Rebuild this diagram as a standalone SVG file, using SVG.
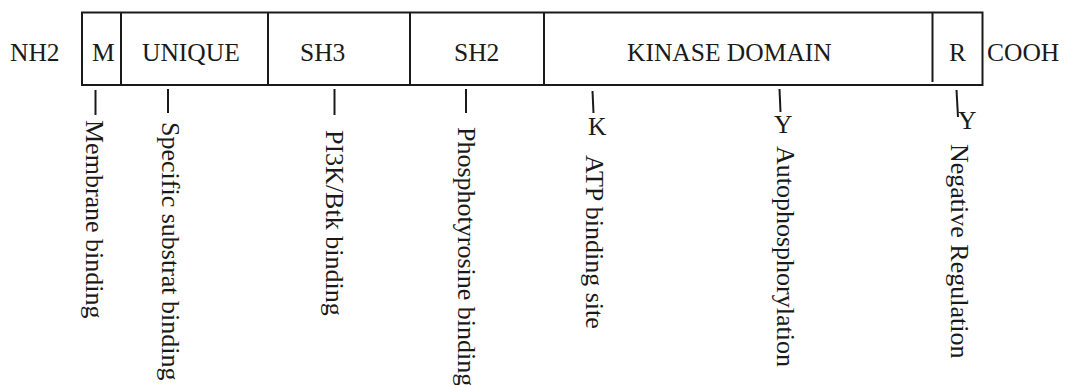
<svg xmlns="http://www.w3.org/2000/svg" width="1070" height="385" viewBox="0 0 1070 385">
<style>
text{font-family:"Liberation Serif","Times New Roman",serif;font-size:25.5px;fill:#1a1a1a}
.v{font-size:26px}
.b{fill:none;stroke:#1a1a1a;stroke-width:2}
.t{stroke:#1a1a1a;stroke-width:2}
</style>
<rect width="1070" height="385" fill="#fff"/>
<g id="ends">
<text x="10" y="61">NH2</text>
<text x="987" y="61">COOH</text>
</g>
<g id="protein">
<rect class="b" x="82" y="12.5" width="900.5" height="72.5"/>
<line class="t" x1="121" y1="12.5" x2="121" y2="85"/>
<line class="t" x1="268" y1="12.5" x2="268" y2="85"/>
<line class="t" x1="410" y1="12.5" x2="410" y2="85"/>
<line class="t" x1="544" y1="12.5" x2="544" y2="85"/>
<line class="t" x1="932.5" y1="12.5" x2="932.5" y2="82"/>
</g>
<g id="dom-M"><text x="92" y="61">M</text></g>
<g id="dom-UNIQUE"><text x="142" y="61">UNIQUE</text></g>
<g id="dom-SH3"><text x="300" y="61">SH3</text></g>
<g id="dom-SH2"><text x="454" y="61">SH2</text></g>
<g id="dom-KINASE"><text x="627" y="61">KINASE DOMAIN</text></g>
<g id="dom-R"><text x="949" y="61">R</text></g>
<g id="connectors">
<line class="t" x1="95.5" y1="90" x2="95.5" y2="115"/>
<line class="t" x1="168" y1="89" x2="168" y2="113"/>
<line class="t" x1="334.5" y1="89" x2="334.5" y2="115"/>
<line class="t" x1="466" y1="89" x2="466" y2="113"/>
<line class="t" x1="592.5" y1="91" x2="593.5" y2="113"/>
<line class="t" x1="779.5" y1="89" x2="780.5" y2="112"/>
<line class="t" x1="956.5" y1="90" x2="958" y2="117"/>
</g>
<g id="site-K"><text x="588" y="135">K</text></g>
<g id="site-Y1"><text x="774" y="133">Y</text></g>
<g id="site-Y2"><text x="958" y="129">Y</text></g>
<g id="label-membrane"><text class="v" transform="translate(86,120) rotate(90)">Membrane binding</text></g>
<g id="label-substrat"><text class="v" transform="translate(162,122) rotate(90)">Specific substrat binding</text></g>
<g id="label-pi3k"><text class="v" transform="translate(326,130) rotate(90)">PI3K/Btk binding</text></g>
<g id="label-phospho"><text class="v" transform="translate(458,127) rotate(90)">Phosphotyrosine binding</text></g>
<g id="label-atp"><text class="v" transform="translate(586,155) rotate(90)">ATP binding site</text></g>
<g id="label-auto"><text class="v" transform="translate(777,146) rotate(90)">Autophosphorylation</text></g>
<g id="label-neg"><text class="v" transform="translate(951,144) rotate(90)">Negative Regulation</text></g>
</svg>
